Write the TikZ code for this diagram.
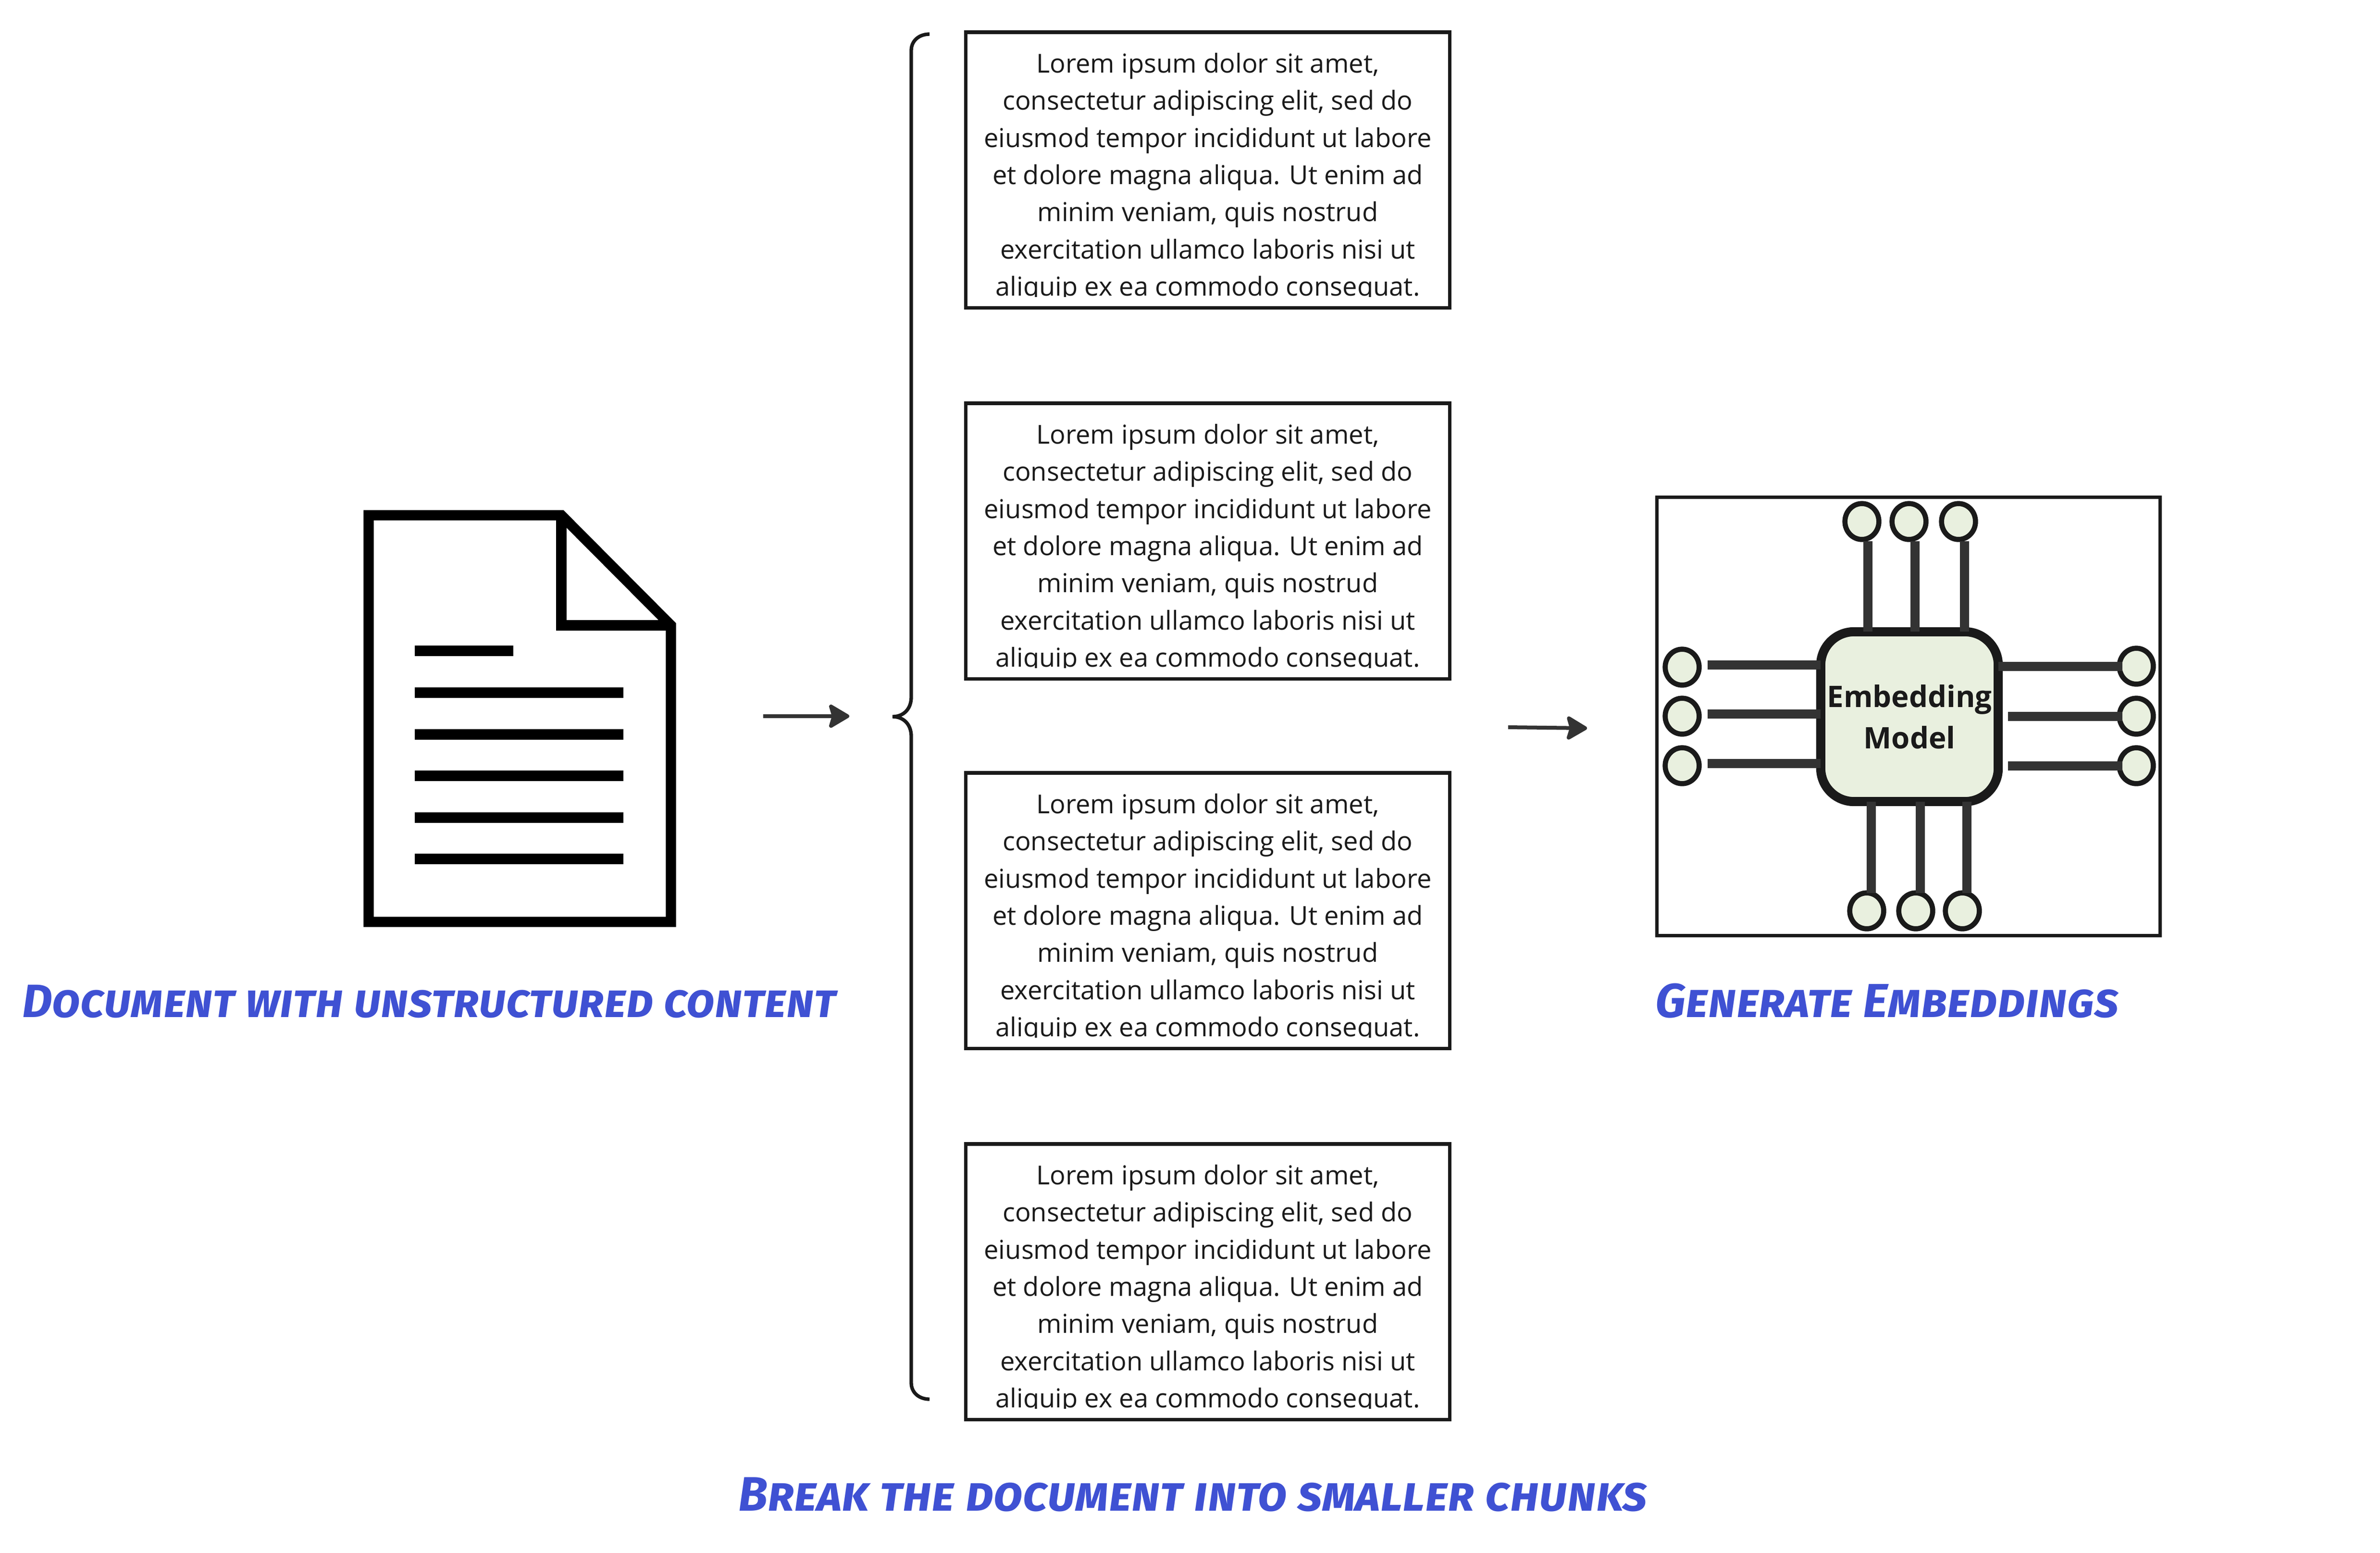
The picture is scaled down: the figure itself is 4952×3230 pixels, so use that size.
\documentclass[tikz,border=0pt]{standalone}
\usepackage{xcolor}
\usepackage{fontspec}
\usepackage{tikz}
\usetikzlibrary{arrows.meta,shapes.geometric}
\setmainfont{Open Sans}
\newfontfamily\notefont[Letters=SmallCaps]{Fira Sans}
\definecolor{notecol}{HTML}{3F51D3}
\definecolor{chipfill}{HTML}{E9F0DF}
\definecolor{inkcol}{HTML}{1A1A1A}
\definecolor{leadcol}{HTML}{333333}
\newcommand{\loremlines}{Lorem ipsum dolor sit amet,\\consectetur adipiscing elit, sed do\\eiusmod tempor incididunt ut labore\\et dolore magna aliqua. Ut enim ad\\minim veniam, quis nostrud\\exercitation ullamco laboris nisi ut\\aliquip ex ea commodo consequat.}
\tikzset{
  chunkbox/.style={draw=inkcol,line width=5.5pt,minimum width=755pt,minimum height=430pt,outer sep=0pt,inner sep=0pt},
  chunktext/.style={anchor=north,align=center,inner sep=0pt,text=inkcol,font=\fontsize{40.7pt}{58pt}\selectfont},
  notetext/.style={anchor=base west,inner sep=0pt,text=notecol,font=\notefont\bfseries\itshape\fontsize{#1}{80pt}\selectfont},
  pin/.style={ellipse,draw=inkcol,fill=chipfill,line width=8pt,minimum width=53pt,minimum height=56pt,inner sep=0pt,outer sep=0pt},
  lead/.style={draw=leadcol,line width=14.25pt},
  flow/.style={draw=leadcol,line width=6pt,-{Stealth[length=36pt,width=42pt,inset=6pt,round]}},
  pageline/.style={line width=17pt,line cap=butt},
}
\begin{document}
\begin{tikzpicture}[x=0.75pt,y=0.75pt,yscale=-1,xscale=1]
\useasboundingbox (0,0) rectangle (4952,3230);
\fill[white] (0,0) rectangle (4952,3230);

% document icon
\draw [line width=16pt,miter limit=10] (767,1072) -- (1168,1072) -- (1396,1301) -- (1396,1918) -- (767,1918) -- cycle ;
\draw [line width=16pt] (1168,1072) -- (1168,1301) -- (1396,1301) ;
\draw [pageline] (863,1354) -- (1068,1354) ;
\foreach \y in {1441,1528,1614,1701,1787} {
  \draw [pageline] (863,\y) -- (1297,\y) ;
}
\node [notetext=72.9pt] (doclabel) at (46,2116) {Document with unstructured content};

% arrows
\coordinate (flowa) at (1588,1490);
\coordinate (flowb) at (1767,1490);
\coordinate (flowc) at (3138,1513);
\coordinate (flowd) at (3302,1515);
\draw [flow] (flowa) -- (flowb);
\draw [flow] (flowc) -- (flowd);

% brace
\draw [draw=inkcol,line width=5.5pt] (1934,71) .. controls (1912,71) and (1896,85) .. (1896,105) -- (1896,1450) .. controls (1896,1475) and (1880,1491) .. (1857,1491) .. controls (1880,1491) and (1896,1507) .. (1896,1532) -- (1896,2877) .. controls (1896,2897) and (1912,2911) .. (1934,2911) ;

% chunks
\foreach \i/\ytop in {1/67,2/839,3/1608,4/2380} {
  \node [chunkbox] (chunk\i) at (2513,\ytop+286.5) {};
  \begin{scope}
    \clip (2020,\ytop) rectangle (3010,\ytop+550);
    \node [chunktext] (lorem\i) at (2513,\ytop+43) {\loremlines};
  \end{scope}
}
\node [notetext=75.5pt] (chunklabel) at (1536,3143) {Break the document into smaller chunks};

% embedding model
\draw [draw=inkcol,line width=5.25pt] (3447,1034) rectangle (4494,1946);
\node [draw=inkcol,fill=chipfill,line width=14.25pt,rounded corners=52pt,minimum width=277pt,minimum height=265pt,inner sep=0pt,outer sep=0pt,align=center,text=inkcol,font=\bfseries\fontsize{46.3pt}{64.5pt}\selectfont] (chip) at (3973,1491) {Embedding\\Model};
\node [pin] (pint1) at (3874,1085) {};
\node [pin] (pint2) at (3972,1085) {};
\node [pin] (pint3) at (4075,1085) {};
\node [pin] (pinb1) at (3884,1895) {};
\node [pin] (pinb2) at (3986,1895) {};
\node [pin] (pinb3) at (4083,1895) {};
\node [pin] (pinl1) at (3500,1388) {};
\node [pin] (pinl2) at (3500,1490) {};
\node [pin] (pinl3) at (3500,1593) {};
\node [pin] (pinr1) at (4445,1386) {};
\node [pin] (pinr2) at (4445,1490) {};
\node [pin] (pinr3) at (4445,1593) {};
\foreach \n in {1,2,3} {
  \draw [lead] ([xshift=9pt,yshift=3pt]pint\n.south) -- ([xshift=9pt]pint\n.south |- chip.north);
  \draw [lead] ([xshift=7pt]pinb\n.north) -- ([xshift=7pt]pinb\n.north |- chip.south);
  \draw [lead] ([xshift=13.5pt,yshift=-3.5pt]pinl\n.east) -- ([yshift=-3.5pt]pinl\n.east -| chip.west);
}
\draw [lead] ([xshift=5pt]pinr1.west) -- (pinr1.west -| chip.east);
\draw [lead] ([xshift=5pt]pinr2.west) -- ([xshift=15.5pt]pinr2.west -| chip.east);
\draw [lead] ([xshift=5pt]pinr3.west) -- ([xshift=15.5pt]pinr3.west -| chip.east);
\node [notetext=74.5pt] (chiplabel) at (3444,2116) {Generate Embeddings};
\end{tikzpicture}
\end{document}
